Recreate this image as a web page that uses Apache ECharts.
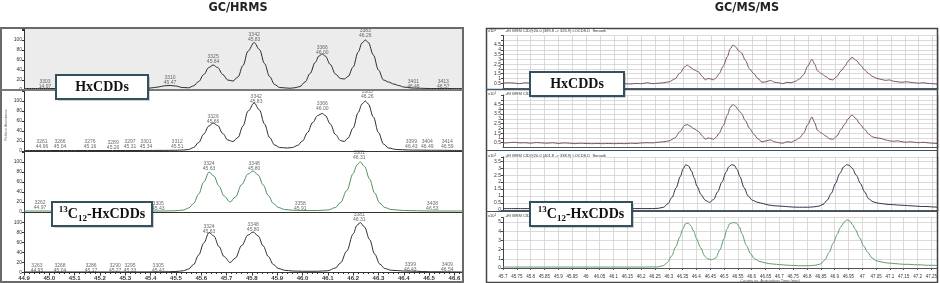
<!DOCTYPE html>
<html><head><meta charset="utf-8">
<script src="https://cdn.jsdelivr.net/npm/echarts@6/dist/echarts.min.js"></script>
<style>html,body{margin:0;padding:0;background:#fff}#c{width:940px;height:283px}</style>
</head><body><div id="c"></div>
<script>
// ---------- DATA ----------
const titles = ['GC/HRMS', 'GC/MS/MS'];
const boxLabels = ['HxCDDs', '13C12-HxCDDs'];
const mrmHeaders = [
  '+EI MRM CID@20.0 (389.8 -> 326.9) LOCDS.D  Smooth',
  '+EI MRM CID@20.0 (389.8 -> 326.9) LOCDS.D  Smooth',
  '+EI MRM CID@20.0 (401.8 -> 338.9) LOCDS.D  Smooth',
  '+EI MRM CID@20.0 (401.8 -> 338.9) LOCDS.D  Smooth'
];
// GC/HRMS traces: [retention time, relative abundance %]
const hrmsNative1 = [[44.90,3],[45.00,3],[45.10,3],[45.20,3],[45.30,3],[45.36,3],[45.40,4],[45.43,6],[45.455,8.5],[45.477,9],[45.50,8],[45.525,5],[45.55,4.4],[45.57,8.4],[45.59,17],[45.61,31],[45.63,45],[45.647,50],[45.665,45],[45.685,31],[45.705,20],[45.725,18],[45.745,26],[45.765,49],[45.785,78],[45.809,95],[45.83,81],[45.85,53],[45.87,27],[45.89,11],[45.91,5],[45.95,3.5],[45.97,4.5],[45.99,7],[46.01,16],[46.03,33],[46.05,55],[46.065,68],[46.078,72],[46.09,68],[46.11,51],[46.13,32],[46.15,23],[46.165,22],[46.18,27],[46.20,46],[46.22,76],[46.235,94],[46.248,100],[46.26,95],[46.28,70],[46.30,40],[46.32,20],[46.34,16],[46.36,12],[46.38,9],[46.40,6],[46.43,4],[46.50,3],[46.63,3]];
const hrmsNative2 = [[44.90,1],[45.10,1],[45.30,1],[45.45,1.2],[45.50,1.5],[45.53,2],[45.55,3],[45.57,7],[45.59,17],[45.61,34],[45.63,50],[45.647,56],[45.665,51],[45.685,35],[45.705,22],[45.725,19],[45.745,27],[45.765,50],[45.785,80],[45.809,96],[45.83,82],[45.85,54],[45.87,27],[45.89,12],[45.91,7],[45.94,6],[45.96,7],[45.98,11],[46.00,20],[46.02,37],[46.04,57],[46.06,71],[46.078,75],[46.09,71],[46.11,54],[46.13,33],[46.15,21],[46.165,19],[46.18,26],[46.20,46],[46.22,77],[46.235,94],[46.248,100],[46.26,94],[46.28,68],[46.30,37],[46.32,14],[46.34,6],[46.37,3],[46.42,2],[46.50,1.5],[46.63,1]];
const hrmsLabeled1 = [[44.90,2],[45.10,2],[45.30,2],[45.45,2],[45.50,2.5],[45.53,4],[45.55,8],[45.57,17],[45.59,36],[45.61,60],[45.631,80],[45.65,72],[45.67,52],[45.69,32],[45.714,20],[45.735,30],[45.76,55],[45.785,76],[45.805,82],[45.825,74],[45.845,54],[45.865,33],[45.885,17],[45.905,9],[45.93,5],[45.96,3.5],[46.00,3],[46.06,3],[46.10,4],[46.13,9],[46.15,19],[46.175,43],[46.20,77],[46.215,94],[46.228,100],[46.245,91],[46.265,66],[46.285,38],[46.305,18],[46.325,9],[46.35,5],[46.40,3],[46.50,2],[46.63,2]];
const hrmsLabeled2 = [[44.90,1],[45.10,1],[45.30,1],[45.45,1.2],[45.50,2],[45.53,3.5],[45.55,7],[45.57,16],[45.59,35],[45.61,59],[45.631,80],[45.65,73],[45.67,52],[45.69,32],[45.714,20],[45.735,29],[45.76,54],[45.785,75],[45.805,81],[45.825,73],[45.845,53],[45.865,32],[45.885,16],[45.905,8],[45.93,4.5],[45.96,3],[46.00,2.5],[46.06,2.5],[46.10,3.5],[46.13,9],[46.15,19],[46.175,43],[46.20,77],[46.215,94],[46.228,100],[46.245,91],[46.265,66],[46.285,37],[46.305,17],[46.325,8],[46.35,4.5],[46.40,3],[46.45,2.5],[46.50,1.5],[46.63,1]];
// peak annotations: [rt, height, "scan\nrt"]
const annNative1 = [[44.983,12,'3303\n14.97'],[45.477,20,'3310\n45.47'],[45.647,62,'3325\n45.64'],[45.809,106,'3342\n45.83'],[46.078,80,'3366\n46.00'],[46.248,114,'3383\n46.26'],[46.438,12,'3401\n46.46'],[46.556,12,'3413\n46.57']];
const annNative2 = [[44.971,13,'3261\n44.96'],[45.042,13,'3266\n45.04'],[45.161,13,'3276\n45.16'],[45.252,12,'3289\n45.26'],[45.319,14,'3297\n45.31'],[45.382,14,'3301\n45.34'],[45.505,14,'3312\n45.51'],[45.647,63,'3326\n45.66'],[45.817,104,'3342\n45.83'],[46.078,89,'3366\n46.00'],[46.256,113,'3383\n46.26'],[46.43,13,'3399\n46.43'],[46.493,13,'3404\n46.49'],[46.572,13,'3414\n46.59']];
const annLabeled1 = [[44.963,13,'3262\n44.97'],[45.43,12,'3305\n45.43'],[45.631,92,'3324\n45.63'],[45.809,92,'3348\n45.80'],[46.224,113,'3381\n46.31'],[45.991,11,'3358\n45.91'],[46.513,11,'3408\n46.53']];
const annLabeled2 = [[44.951,9,'3263\n44.95'],[45.042,9,'3268\n45.04'],[45.165,9,'3286\n45.17'],[45.26,9,'3290\n45.27'],[45.319,9,'3295\n45.33'],[45.43,9,'3305\n45.43'],[45.631,87,'3324\n45.63'],[45.805,91,'3348\n45.80'],[46.224,111,'3381\n46.31'],[46.426,10,'3399\n46.43'],[46.572,10,'3409\n46.54']];
// GC/MS/MS traces: [acquisition time, counts x10]
const msmsNative1 = [[45.70,0.50],[45.72,0.55],[45.74,0.52],[45.76,0.45],[45.78,0.55],[45.80,0.50],[45.82,0.45],[45.84,0.55],[45.86,0.50],[45.88,0.42],[45.90,0.50],[45.92,0.48],[45.94,0.40],[45.96,0.45],[45.98,0.42],[46.00,0.40],[46.02,0.42],[46.04,0.38],[46.06,0.42],[46.08,0.40],[46.10,0.42],[46.12,0.40],[46.14,0.45],[46.16,0.42],[46.18,0.48],[46.20,0.45],[46.22,0.55],[46.24,0.45],[46.26,0.50],[46.28,0.55],[46.30,0.65],[46.32,0.95],[46.34,1.6],[46.355,2.2],[46.365,2.4],[46.375,2.2],[46.39,1.9],[46.405,1.7],[46.42,1.2],[46.43,0.85],[46.44,1.0],[46.45,0.95],[46.46,0.85],[46.47,1.1],[46.48,1.5],[46.495,2.3],[46.51,3.3],[46.52,4.1],[46.53,4.5],[46.54,4.3],[46.55,3.9],[46.56,3.7],[46.575,2.9],[46.59,2.0],[46.605,1.5],[46.62,1.0],[46.635,0.6],[46.65,0.65],[46.665,0.8],[46.68,0.6],[46.695,0.55],[46.71,0.45],[46.725,0.6],[46.74,0.55],[46.755,0.7],[46.77,0.95],[46.785,1.4],[46.80,2.3],[46.815,3.0],[46.825,2.5],[46.835,1.8],[46.85,1.5],[46.865,1.2],[46.88,0.9],[46.89,0.85],[46.905,1.2],[46.92,1.8],[46.935,2.3],[46.945,2.8],[46.96,3.2],[46.975,2.9],[46.99,2.4],[47.005,1.9],[47.02,1.5],[47.035,1.2],[47.05,1.0],[47.065,0.9],[47.08,0.8],[47.095,0.85],[47.11,0.7],[47.125,0.65],[47.14,0.6],[47.155,0.65],[47.17,0.6],[47.185,0.55],[47.20,0.5],[47.215,0.55],[47.23,0.5],[47.25,0.45],[47.27,0.4]];
const msmsNative2 = [[45.70,0.45],[45.72,0.50],[45.74,0.55],[45.76,0.48],[45.78,0.50],[45.80,0.45],[45.82,0.52],[45.84,0.48],[45.86,0.45],[45.88,0.50],[45.90,0.42],[45.92,0.48],[45.94,0.45],[45.96,0.40],[45.98,0.45],[46.00,0.42],[46.02,0.40],[46.04,0.42],[46.06,0.40],[46.08,0.42],[46.10,0.40],[46.12,0.42],[46.14,0.40],[46.16,0.45],[46.18,0.42],[46.20,0.48],[46.22,0.50],[46.24,0.48],[46.26,0.55],[46.28,0.60],[46.30,0.70],[46.32,1.0],[46.34,1.7],[46.355,2.3],[46.365,2.4],[46.375,2.25],[46.39,1.95],[46.405,1.7],[46.42,1.2],[46.43,0.85],[46.44,1.0],[46.45,0.95],[46.46,0.85],[46.47,1.1],[46.48,1.5],[46.495,2.3],[46.51,3.4],[46.52,4.2],[46.53,4.5],[46.54,4.3],[46.55,3.9],[46.56,3.6],[46.575,2.8],[46.59,2.0],[46.605,1.4],[46.62,0.9],[46.635,0.6],[46.65,0.7],[46.665,0.8],[46.68,0.6],[46.695,0.5],[46.71,0.45],[46.725,0.6],[46.74,0.55],[46.755,0.75],[46.77,1.0],[46.785,1.5],[46.80,2.4],[46.815,3.2],[46.825,2.6],[46.835,1.8],[46.85,1.5],[46.865,1.2],[46.88,0.9],[46.89,0.85],[46.905,1.2],[46.92,1.9],[46.935,2.5],[46.945,3.0],[46.96,3.4],[46.975,3.0],[46.99,2.4],[47.005,1.9],[47.02,1.4],[47.035,1.1],[47.05,1.0],[47.065,0.95],[47.08,0.8],[47.095,0.7],[47.11,0.65],[47.125,0.7],[47.14,0.6],[47.155,0.55],[47.17,0.6],[47.185,0.55],[47.20,0.5],[47.215,0.55],[47.23,0.5],[47.25,0.45],[47.27,0.4]];
const msmsLabeled1 = [[45.70,0.1],[45.80,0.1],[45.90,0.1],[46.00,0.1],[46.10,0.1],[46.20,0.1],[46.24,0.1],[46.26,0.12],[46.28,0.2],[46.295,0.45],[46.31,0.9],[46.325,1.6],[46.34,2.4],[46.35,2.95],[46.36,3.25],[46.37,3.15],[46.38,2.8],[46.39,2.3],[46.40,1.7],[46.415,1.1],[46.43,0.7],[46.445,0.55],[46.46,0.75],[46.475,1.3],[46.49,2.0],[46.505,2.7],[46.515,3.1],[46.525,3.25],[46.535,3.2],[46.545,2.9],[46.555,2.4],[46.57,1.6],[46.585,1.0],[46.60,0.7],[46.62,0.55],[46.64,0.45],[46.66,0.35],[46.68,0.3],[46.70,0.28],[46.72,0.25],[46.74,0.22],[46.76,0.2],[46.78,0.2],[46.80,0.2],[46.82,0.22],[46.84,0.28],[46.855,0.4],[46.87,0.7],[46.885,1.2],[46.90,1.9],[46.915,2.6],[46.93,3.1],[46.94,3.25],[46.95,3.2],[46.96,3.0],[46.975,2.5],[46.99,1.9],[47.005,1.3],[47.02,0.8],[47.035,0.6],[47.05,0.5],[47.07,0.45],[47.09,0.4],[47.11,0.38],[47.13,0.35],[47.15,0.33],[47.17,0.3],[47.19,0.28],[47.21,0.25],[47.23,0.25],[47.25,0.22],[47.27,0.2]];
const msmsLabeled2 = [[45.70,0.1],[45.80,0.1],[45.90,0.1],[46.00,0.1],[46.10,0.1],[46.20,0.1],[46.26,0.12],[46.28,0.25],[46.295,0.6],[46.31,1.3],[46.325,2.3],[46.34,3.4],[46.35,4.2],[46.36,4.8],[46.37,4.9],[46.38,4.6],[46.39,4.0],[46.40,3.2],[46.415,2.2],[46.43,1.3],[46.44,1.0],[46.455,0.9],[46.47,1.1],[46.485,2.0],[46.50,3.2],[46.51,4.2],[46.52,4.8],[46.53,4.95],[46.545,4.9],[46.555,4.5],[46.565,3.7],[46.58,2.5],[46.595,1.6],[46.61,1.0],[46.63,0.7],[46.65,0.55],[46.67,0.45],[46.69,0.4],[46.71,0.35],[46.73,0.3],[46.75,0.28],[46.77,0.25],[46.79,0.25],[46.81,0.25],[46.83,0.3],[46.85,0.45],[46.865,0.9],[46.88,1.7],[46.895,2.7],[46.91,3.7],[46.92,4.4],[46.935,5.0],[46.945,5.25],[46.955,5.1],[46.965,4.7],[46.975,4.2],[46.99,3.3],[47.005,2.4],[47.02,1.7],[47.035,1.1],[47.05,0.8],[47.07,0.65],[47.09,0.55],[47.11,0.5],[47.13,0.45],[47.15,0.4],[47.17,0.4],[47.19,0.35],[47.21,0.35],[47.23,0.3],[47.25,0.3],[47.27,0.28]];

// ---------- CHART ----------
const chart = echarts.init(document.getElementById('c'), null, {renderer: 'canvas'});
const sans = "'Liberation Sans', Arial, sans-serif";
const serif = "'Liberation Serif', 'Times New Roman', serif";
const narrow = "'Liberation Sans Narrow','DejaVu Sans Condensed','Liberation Sans',Arial,sans-serif";

const leftTraces = [hrmsNative1, hrmsNative2, hrmsLabeled1, hrmsLabeled2];
const leftAnns = [annNative1, annNative2, annLabeled1, annLabeled2];
const leftColors = ['#2b2b2b', '#2b2b2b', '#4f8d5e', '#2b2b2b'];
const rightTraces = [msmsNative1, msmsNative2, msmsLabeled1, msmsLabeled2];
const rightColors = ['#7a4d6c', '#7a4d6c', '#2f3048', '#5d9a6c'];

const grids = [
  {left: 24, top: 29, width: 438, height: 61, show: true, backgroundColor: '#ececec', borderWidth: 0},
  {left: 24, top: 91, width: 438, height: 60},
  {left: 24, top: 152, width: 438, height: 60},
  {left: 24, top: 212.5, width: 438, height: 60},
  {left: 503, top: 35.5, width: 435, height: 52.5},
  {left: 503, top: 95, width: 435, height: 52.5},
  {left: 503, top: 157, width: 435, height: 53},
  {left: 503, top: 217.5, width: 435, height: 50.5}
];
const xAxes = [], yAxes = [], series = [];
for (let i = 0; i < 4; i++) {
  const last = i === 3;
  xAxes.push({type: 'value', gridIndex: i, min: 44.9, max: 46.63, interval: 0.1,
    axisLine: {show: true, onZero: false, lineStyle: {color: i === 0 ? '#777' : '#333', width: i === 0 ? 2 : 1}},
    axisTick: {show: last, length: 3, lineStyle: {color: '#333'}},
    minorTick: {show: last, splitNumber: 5, length: 1.5, lineStyle: {color: '#333'}},
    axisLabel: {show: last, fontSize: 6, fontWeight: 'bold', color: '#333', margin: 3, fontFamily: sans,
      formatter: v => v > 46.61 ? '' : v.toFixed(1)},
    splitLine: {show: false}});
  yAxes.push({type: 'value', gridIndex: i, min: 0, max: i === 0 ? 122 : 120, interval: 20,
    axisLine: {show: true, lineStyle: {color: '#333'}},
    axisTick: {show: true, length: 2, lineStyle: {color: '#333'}},
    axisLabel: {fontSize: 5, color: '#333', margin: 2, fontFamily: sans, formatter: v => v > 100 ? '' : String(v)},
    splitLine: {show: false}});
  series.push({type: 'line', xAxisIndex: i, yAxisIndex: i, data: leftTraces[i], showSymbol: false,
    smooth: 0.35, smoothMonotone: 'x', lineStyle: {color: leftColors[i], width: 1}, silent: true});
  series.push({type: 'scatter', xAxisIndex: i, yAxisIndex: i, data: leftAnns[i], symbolSize: 0, silent: true,
    label: {show: true, position: 'inside', formatter: p => p.value[2], fontSize: 5, lineHeight: 5,
      color: '#444', fontFamily: sans}});
}
const rMax = [5.5, 5.5, 3.8, 5.5], rInt = [0.5, 0.5, 0.5, 1], rTop = [4.5, 4.5, 3.5, 5];
for (let i = 0; i < 4; i++) {
  const g = 4 + i, last = i === 3;
  xAxes.push({type: 'value', gridIndex: g, min: 45.7, max: 47.27, interval: 0.05,
    axisLine: {show: true, onZero: false, lineStyle: {color: '#555', width: 1}},
    axisTick: {show: last, length: 2, lineStyle: {color: '#555'}},
    axisLabel: {show: last, fontSize: 4.5, color: '#333', margin: 6, fontFamily: sans,
      formatter: v => v > 47.26 ? '' : String(+v.toFixed(2))},
    splitLine: {show: true, lineStyle: {color: '#d0d0d0', width: 0.8}}});
  yAxes.push({type: 'value', gridIndex: g, min: 0, max: rMax[i], interval: rInt[i],
    axisLine: {show: true, lineStyle: {color: '#444'}},
    axisTick: {show: true, length: 2, lineStyle: {color: '#444'}},
    axisLabel: {fontSize: 5, color: '#333', margin: 2, fontFamily: sans,
      formatter: v => v > rTop[i] + 1e-6 ? '' : String(+v.toFixed(1))},
    splitLine: {show: true, lineStyle: {color: '#d0d0d0', width: 0.8}}});
  series.push({type: 'line', xAxisIndex: g, yAxisIndex: g, data: rightTraces[i], showSymbol: false,
    smooth: 0.3, smoothMonotone: 'x', lineStyle: {color: rightColors[i], width: 1}, silent: true});
}

const richBox = {
  b: {fontSize: 14, fontWeight: 'bold', fontFamily: serif, fill: '#111', color: '#111', lineHeight: 18, verticalAlign: 'middle'},
  sup: {fontSize: 9, fontWeight: 'bold', fontFamily: serif, fill: '#111', color: '#111', lineHeight: 18, verticalAlign: 'top', padding: [0, 0, 6, 0]},
  sub: {fontSize: 9, fontWeight: 'bold', fontFamily: serif, fill: '#111', color: '#111', lineHeight: 18, verticalAlign: 'bottom', padding: [5, 0, 0, 0]}
};
function box(x, y, w, h, richText, cx, cy) {
  return [
    {type: 'rect', z: 200, shape: {x: x + 2, y: y + 2, width: w, height: h}, style: {fill: 'rgba(0,0,0,0.18)'}},
    {type: 'rect', z: 201, shape: {x: x, y: y, width: w, height: h}, style: {fill: '#ffffff', stroke: '#33505f', lineWidth: 2}},
    {type: 'text', z: 202, x: cx, y: cy, style: {text: richText, align: 'center', verticalAlign: 'middle',
      textAlign: 'center', textVerticalAlign: 'middle', rich: richBox}}
  ];
}
function txt(x, y, text, size, extra) {
  return {type: 'text', x: x, y: y, z: 150, style: Object.assign({text: text, fontSize: size, fontFamily: sans,
    fill: '#333', align: 'left', verticalAlign: 'middle', textAlign: 'left', textVerticalAlign: 'middle'}, extra || {})};
}
const x10Rich = {a: {fontSize: 4, fill: '#333', color: '#333'}, s: {fontSize: 3, fill: '#333', color: '#333', verticalAlign: 'top'}};
const labeledRich = '{sup|13}{b|C}{sub|12}{b|-HxCDDs}';
const relAb = txt(6, 125, 'Relative Abundance', 3.5, {align: 'center', textAlign: 'center', fill: '#666'});
relAb.rotation = Math.PI / 2;
const graphics = [
  txt(238, 8, titles[0], 12.5, {fontWeight: 'bold', align: 'center', textAlign: 'center', fill: '#222', fontFamily: narrow}),
  txt(747, 8, titles[1], 12.5, {fontWeight: 'bold', align: 'center', textAlign: 'center', fill: '#222', fontFamily: narrow}),
  {type: 'rect', z: 120, shape: {x: 1, y: 28, width: 462, height: 254}, style: {fill: 'none', stroke: '#6a6a6a', lineWidth: 2}},
  {type: 'line', z: 120, shape: {x1: 1, y1: 90, x2: 463, y2: 90}, style: {stroke: '#7a7a7a', lineWidth: 2}},
  {type: 'rect', z: 120, shape: {x: 486.5, y: 28.5, width: 451, height: 254}, style: {fill: 'none', stroke: '#444', lineWidth: 1.5}},
  {type: 'line', z: 120, shape: {x1: 486, y1: 89.5, x2: 938, y2: 89.5}, style: {stroke: '#3c5566', lineWidth: 1.5}},
  {type: 'line', z: 120, shape: {x1: 486, y1: 150.5, x2: 938, y2: 150.5}, style: {stroke: '#3c5566', lineWidth: 1.2}},
  {type: 'line', z: 120, shape: {x1: 486, y1: 211.5, x2: 938, y2: 211.5}, style: {stroke: '#3c5566', lineWidth: 1.2}},
  relAb,
  txt(488, 31, '{a|x10}{s|1}', 4, {rich: x10Rich}),
  txt(488, 94, '{a|x10}{s|1}', 4, {rich: x10Rich}),
  txt(488, 155.5, '{a|x10}{s|1}', 4, {rich: x10Rich}),
  txt(488, 216, '{a|x10}{s|1}', 4, {rich: x10Rich}),
  txt(505, 31, mrmHeaders[0], 4, {backgroundColor: '#fff'}),
  txt(505, 94, mrmHeaders[1], 4, {backgroundColor: '#fff'}),
  txt(505, 155.5, mrmHeaders[2], 4, {backgroundColor: '#fff'}),
  txt(505, 216, mrmHeaders[3], 4, {backgroundColor: '#fff'}),
  txt(770, 281, 'Counts vs. Acquisition Time (min)', 4, {align: 'center', textAlign: 'center', fill: '#555'})
].concat(
  box(56, 75, 92, 24, '{b|HxCDDs}', 102, 87),
  box(52, 202, 100, 24, labeledRich, 102, 214),
  box(530, 72, 94, 24, '{b|HxCDDs}', 577, 84),
  box(530, 202, 102, 24, labeledRich, 581, 214)
);

chart.setOption({
  animation: false,
  grid: grids, xAxis: xAxes, yAxis: yAxes, series: series,
  graphic: {elements: graphics}
});
</script></body></html>
